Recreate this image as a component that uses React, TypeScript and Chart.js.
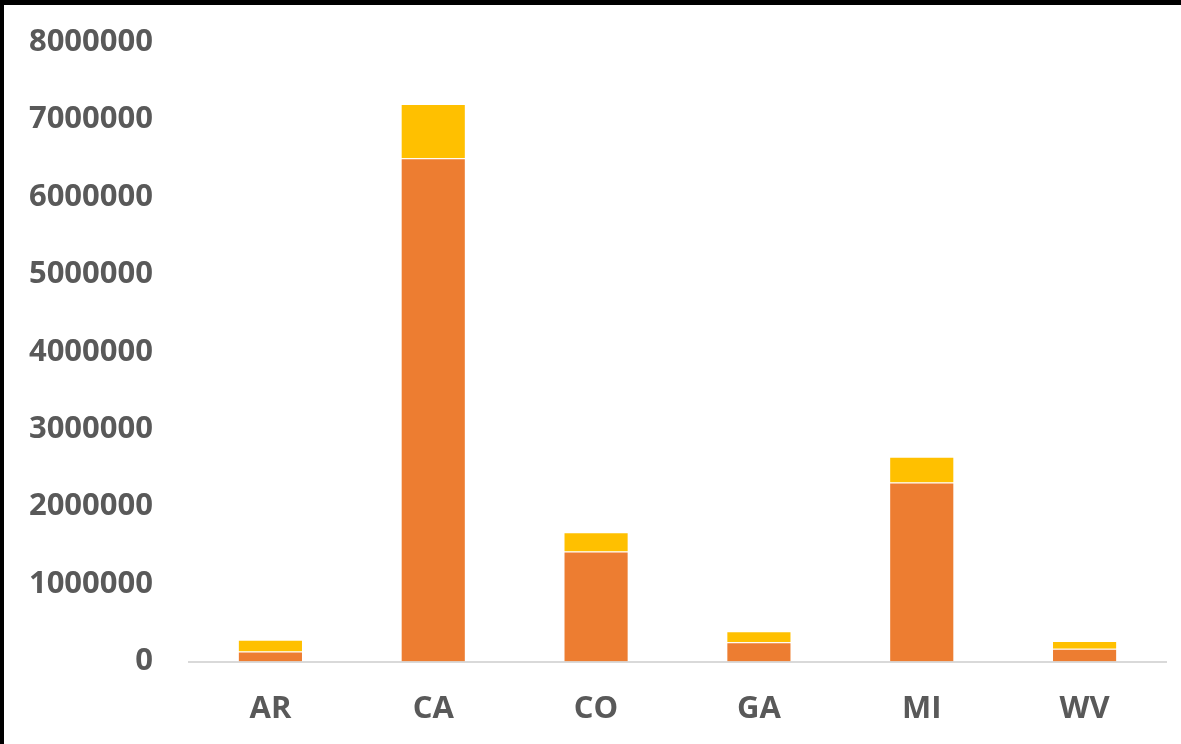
import React, { useEffect, useRef } from "react";
import { Chart, registerables } from "chart.js";

Chart.register(...registerables);

const categories = ["AR", "CA", "CO", "GA", "MI", "WV"];
const seriesLower = [130000, 6500000, 1420000, 250000, 2310000, 165000];
const seriesUpper = [150000, 700000, 250000, 140000, 335000, 100000];
const yTicks = [0, 1000000, 2000000, 3000000, 4000000, 5000000, 6000000, 7000000, 8000000];

const FONT = "'Open Sans', 'Liberation Sans', sans-serif";
const TEXT = "#595959";

export default function App() {
  const ref = useRef<HTMLCanvasElement | null>(null);

  useEffect(() => {
    document.body.style.margin = "0";
    if (!ref.current) return;
    const chart = new Chart(ref.current, {
      type: "bar",
      data: {
        labels: categories,
        datasets: [
          {
            label: "Lower",
            data: seriesLower,
            backgroundColor: "#ED7D31",
            borderColor: "rgba(255,255,255,0.3)",
            borderWidth: 1,
            barPercentage: 0.4,
            categoryPercentage: 1,
          },
          {
            label: "Upper",
            data: seriesUpper,
            backgroundColor: "#FFC000",
            borderColor: "rgba(255,255,255,0.3)",
            borderWidth: 1,
            barPercentage: 0.4,
            categoryPercentage: 1,
          },
        ],
      },
      options: {
        animation: false,
        responsive: false,
        maintainAspectRatio: false,
        layout: { padding: { top: 37, right: 15, left: 0, bottom: 0 } },
        plugins: { legend: { display: false }, tooltip: { enabled: false } },
        scales: {
          x: {
            stacked: true,
            grid: { display: false },
            border: { display: true, color: "#D9D9D9", width: 2 },
            ticks: {
              color: TEXT,
              font: { family: FONT, size: 31, weight: "bold" },
              padding: 21,
            },
            afterFit: (scale: any) => {
              scale.height = 82.5;
              scale.paddingLeft = 0;
              scale.paddingRight = 0;
            },
          },
          y: {
            stacked: true,
            min: 0,
            max: 8000000,
            afterBuildTicks: (scale: any) => {
              scale.ticks = yTicks.map((v) => ({ value: v }));
            },
            grid: { display: false, drawTicks: false },
            border: { display: false },
            ticks: {
              color: TEXT,
              font: { family: FONT, size: 31, weight: "bold" },
              padding: 36,
              callback: (v: any) => String(v),
            },
            afterFit: (scale: any) => {
              scale.width = 185;
              scale.paddingTop = 0;
              scale.paddingBottom = 0;
            },
          },
        },
      },
    });
    return () => chart.destroy();
  }, []);

  return (
    <div
      style={{
        position: "absolute",
        left: 0,
        top: 0,
        width: 1181,
        height: 744,
        boxSizing: "border-box",
        borderTop: "5px solid #000",
        borderLeft: "4px solid #000",
        background: "#fff",
      }}
    >
      <canvas ref={ref} width={1177} height={739} style={{ display: "block" }} />
    </div>
  );
}
